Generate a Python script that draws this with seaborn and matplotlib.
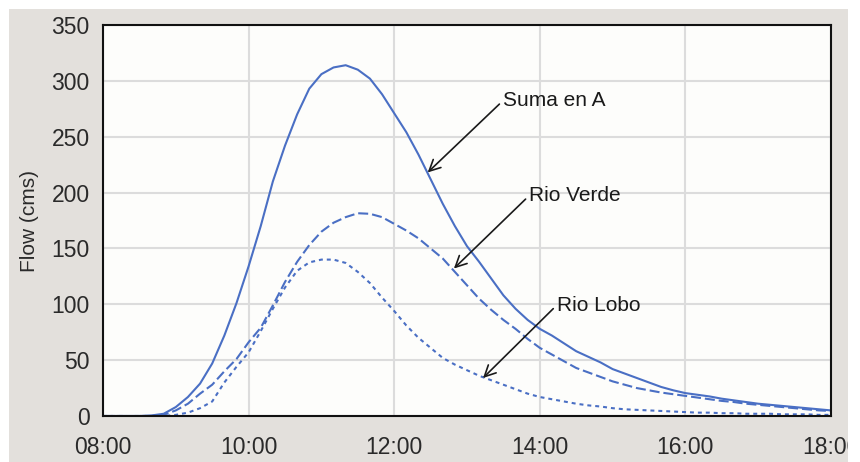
import numpy as np
import pandas as pd
import matplotlib
matplotlib.use("Agg")
import matplotlib.pyplot as plt
import seaborn as sns
from matplotlib.patches import Rectangle
from matplotlib.transforms import Bbox, TransformedBbox

# time axis, every 10 minutes from 08:00 to 18:00 (hours)
hours = [8.0 + i / 6 for i in range(61)]

suma_en_a = [0, 0, 0, 0, 0.5, 2,
             8, 17, 29, 47, 72, 101,
             134, 170, 210, 242, 270, 293,
             306, 312, 314, 310, 302, 288,
             271, 254, 234, 212, 190, 170,
             152, 138, 123, 108, 96, 86,
             78, 72, 65, 58, 53, 48,
             42, 38, 34, 30, 26, 23,
             20.5, 19, 17.5, 15.5, 14, 12.5,
             11, 10, 9, 8, 7, 6,
             5]
rio_verde = [0, 0, 0, 0, 0, 1,
             5, 11, 20, 28, 40, 51,
             66, 79, 99, 120, 138, 153,
             165, 173, 178, 181.5, 181, 178,
             172, 166, 159, 150, 141, 129,
             117, 105, 95, 86, 78, 69,
             61, 55, 49, 43, 39, 35,
             31, 28, 25, 23, 21, 19.5,
             18, 16.5, 15, 13.5, 12.5, 11,
             10, 9, 8, 7, 6, 5,
             4.5]
rio_lobo = [0, 0, 0, 0, 0, 0,
            1, 3, 7, 13, 30, 44,
            57, 76, 96, 115, 130, 137.5,
            140, 140, 137, 129, 119, 106,
            94, 81, 70, 61, 52, 46,
            41, 36, 32, 28, 24, 20,
            17, 15, 13, 11, 9.5, 8.5,
            7, 6, 5.5, 5, 4.5, 4,
            3.5, 3, 3, 2.5, 2.5, 2,
            2, 2, 1.5, 1.5, 1.5, 1,
            1]

x_ticks = [8, 10, 12, 14, 16, 18]
x_labels = ["08:00", "10:00", "12:00", "14:00", "16:00", "18:00"]
y_ticks = [0, 50, 100, 150, 200, 250, 300, 350]

# long format for seaborn
n = len(hours)
df = pd.DataFrame({
    "hour": hours * 3,
    "flow": suma_en_a + rio_verde + rio_lobo,
    "series": ["Suma en A"] * n + ["Rio Verde"] * n + ["Rio Lobo"] * n,
})

sns.set_style("white")
plt.rcParams["font.family"] = ["Liberation Sans", "DejaVu Sans"]

fig = plt.figure(figsize=(8.6, 4.62), dpi=100, facecolor="white")
# grey panel behind the plot
fig.patches.append(Rectangle((9 / 860, 0), 839 / 860, 453 / 462, transform=fig.transFigure,
                             facecolor="#e3e0dc", edgecolor="none", zorder=-10))
ax = fig.add_axes([103 / 860, 1 - 416 / 462, 728 / 860, 391 / 462])
ax.set_facecolor("#fdfdfb")

blue = "#4a6fc4"
sns.lineplot(data=df, x="hour", y="flow", style="series",
             dashes={"Suma en A": "", "Rio Verde": (4.8, 1.9), "Rio Lobo": (1.9, 1.9)},
             color=blue, linewidth=1.5, legend=False, ax=ax)

ax.set_xlim(8, 18)
ax.set_ylim(0, 350)
ax.set_xticks(x_ticks, labels=x_labels)
ax.set_yticks(y_ticks)
ax.grid(True, color="#dcdcdc", linewidth=1.5)
ax.set_axisbelow(True)
for s in ax.spines.values():
    s.set_color("#111111")
    s.set_linewidth(1.5)
ax.tick_params(axis="both", direction="out", length=6.5, width=1.3, color="#111111",
               labelsize=16.5, labelcolor="#2a2a2a", pad=3)
ax.tick_params(axis="x", pad=8)
ax.set_xlabel("")
ax.set_ylabel("Flow (cms)", fontsize=15, color="#2a2a2a", labelpad=9)

# labels with arrows
arrow = dict(arrowstyle="->", color="#1a1a1a", lw=1.2, mutation_scale=20,
             shrinkA=0, shrinkB=0, relpos=(0, 0.5))
ax.annotate("Suma en A", xy=(12.46, 218), xytext=(13.49, 282), fontsize=15,
            color="#1a1a1a", ha="left", va="center", arrowprops=arrow)
ax.annotate("Rio Verde", xy=(12.82, 132), xytext=(13.85, 197), fontsize=15,
            color="#1a1a1a", ha="left", va="center", arrowprops=arrow)
ax.annotate("Rio Lobo", xy=(13.22, 34), xytext=(14.23, 99), fontsize=15,
            color="#1a1a1a", ha="left", va="center", arrowprops=arrow)

# last tick label is cut off at the panel edge
clip = TransformedBbox(Bbox([[0, 0], [848 / 860, 1]]), fig.transFigure)
for lbl in ax.get_xticklabels():
    lbl.set_clip_box(clip)
    lbl.set_clip_on(True)

fig.savefig("out.png", dpi=100, facecolor="white")
